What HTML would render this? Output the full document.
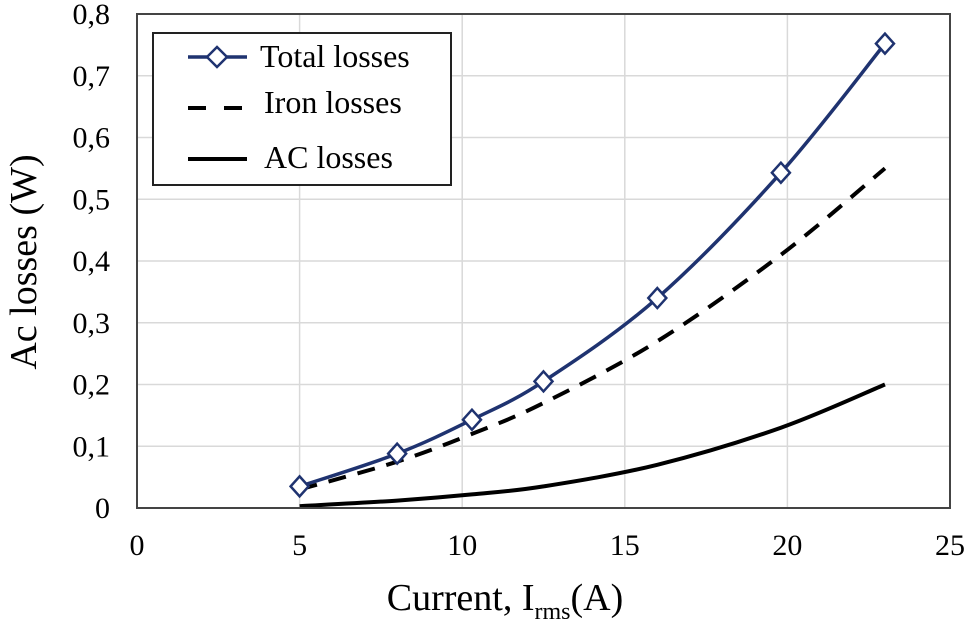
<!DOCTYPE html>
<html><head><meta charset="utf-8"><style>
html,body{margin:0;padding:0;background:#fff;}
svg{display:block;font-family:"Liberation Serif",serif;}
</style></head><body>
<svg id="chart" width="975" height="624" viewBox="0 0 975 624">
<g id="grid"></g>
<g id="series"></g>
<g id="axes"></g>
<text x="36" y="262" font-size="38" text-anchor="middle" transform="rotate(-90 36 262)">Ac losses (W)</text>
<text x="505" y="610" font-size="38" text-anchor="middle">Current, I<tspan font-size="24" dy="9">rms</tspan><tspan dy="-9">(A)</tspan></text>
<g>
<rect x="153" y="33" width="298" height="152" fill="#fff" stroke="#222" stroke-width="2"/>
<line x1="188" y1="57" x2="247" y2="57" stroke="#1f3370" stroke-width="3.5"/>
<path d="M217,47 L227,57 L217,67 L207,57 Z" fill="#fff" stroke="#1f3370" stroke-width="2.5"/>
<text x="260" y="67" font-size="32">Total losses</text>
<line x1="188" y1="108" x2="247" y2="108" stroke="#000" stroke-width="4" stroke-dasharray="18,18"/>
<text x="264" y="113" font-size="32">Iron losses</text>
<line x1="188" y1="159" x2="247" y2="159" stroke="#000" stroke-width="4"/>
<text x="264" y="168" font-size="32">AC losses</text>
</g>
</svg>
<script>
const xTicks=[0,5,10,15,20,25];
const yTicks=[0,0.1,0.2,0.3,0.4,0.5,0.6,0.7,0.8];
const yTickLabels=["0","0,1","0,2","0,3","0,4","0,5","0,6","0,7","0,8"];
const currents=[5,8,10.3,12.5,16,19.8,23];
const totalLosses=[0.035,0.088,0.143,0.205,0.34,0.543,0.752];
const ironLosses=[0.03,0.075,0.12,0.17,0.27,0.41,0.55];
const acLosses=[0.003,0.012,0.022,0.035,0.07,0.13,0.2];
const X0=137,X1=950,Y0=508,Y1=14;
const sx=v=>X0+(v-0)/(25)*(X1-X0);
const sy=v=>Y0-v/0.8*(Y0-Y1);
const NS="http://www.w3.org/2000/svg";
function mk(tag,attrs,parent){const e=document.createElementNS(NS,tag);for(const k in attrs)e.setAttribute(k,attrs[k]);parent.appendChild(e);return e;}
const grid=document.getElementById('grid'),axes=document.getElementById('axes'),series=document.getElementById('series');
xTicks.forEach(t=>{
 if(t>0){const l=mk('line',{x1:sx(t),x2:sx(t),y1:Y1,y2:Y0,stroke:'#d9d9d9','stroke-width':1.5},grid);
 
 }
 const tx=mk('text',{x:sx(t),y:555,'font-size':30,'text-anchor':'middle'},axes);tx.textContent=t;
 
 
});
yTicks.forEach((t,i)=>{
 if(t>0){const l=mk('line',{x1:X0,x2:X1,y1:sy(t),y2:sy(t),stroke:'#d9d9d9','stroke-width':1.5},grid);
 
 }
 const tx=mk('text',{x:110,y:sy(t)+10,'font-size':30,'text-anchor':'end'},axes);tx.textContent=yTickLabels[i];
 
 
});
const frame=mk('rect',{x:X0,y:Y1,width:X1-X0,height:Y0-Y1,fill:'none',stroke:'#444','stroke-width':2},axes);


function smooth(xs,ys){const p=xs.map((x,i)=>[sx(x),sy(ys[i])]);let d=`M${p[0][0]},${p[0][1]}`;
 for(let i=0;i<p.length-1;i++){const a=p[i-1]||p[i],b=p[i],c=p[i+1],e=p[i+2]||c;
 d+=` C${b[0]+(c[0]-a[0])/6},${b[1]+(c[1]-a[1])/6} ${c[0]-(e[0]-b[0])/6},${c[1]-(e[1]-b[1])/6} ${c[0]},${c[1]}`;}return d;}
const ac=mk('path',{d:smooth(currents,acLosses),fill:'none',stroke:'#000','stroke-width':4},series);


const iron=mk('path',{d:smooth(currents,ironLosses),fill:'none',stroke:'#000','stroke-width':4,'stroke-dasharray':'18,12'},series);


const tot=mk('path',{d:smooth(currents,totalLosses),fill:'none',stroke:'#1f3370','stroke-width':3.5},series);


currents.forEach((c,i)=>{const x=sx(c),y=sy(totalLosses[i]);
 const m=mk('path',{d:`M${x},${y-10} L${x+9},${y} L${x},${y+10} L${x-9},${y} Z`,fill:'#fff',stroke:'#1f3370','stroke-width':2.5},series);
 
 
});
</script>
</body></html>
